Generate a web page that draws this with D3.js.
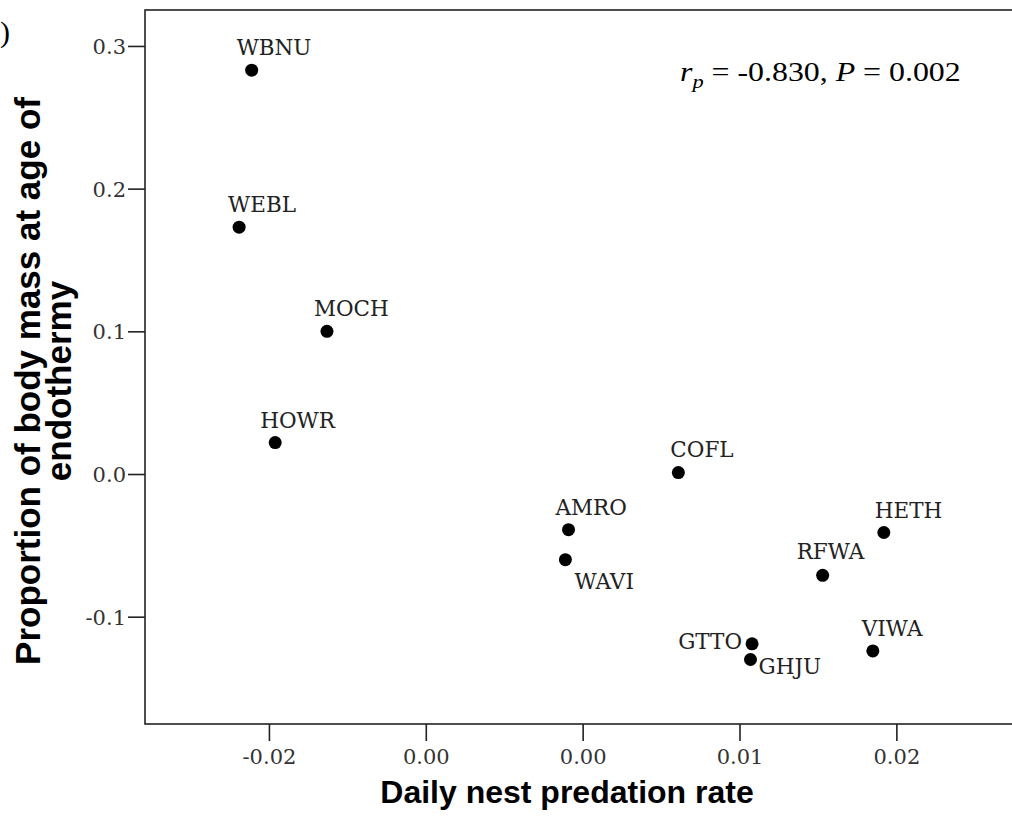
<!DOCTYPE html>
<html>
<head>
<meta charset="utf-8">
<script src="https://cdn.jsdelivr.net/npm/d3@7"></script>
<style>
  body { margin: 0; background: #fff; }
  svg { display: block; }
</style>
</head>
<body>
<div id="svg-area"></div>
<script>
// data
var species = ["WBNU", "WEBL", "MOCH", "HOWR", "COFL", "AMRO", "WAVI", "GTTO", "GHJU", "RFWA", "HETH", "VIWA"];
var predationRate = [-0.0211, -0.0219, -0.0163, -0.0196, 0.0061, -0.0009, -0.0011, 0.0108, 0.0107, 0.0153, 0.0192, 0.0185];
var bodyMassProp = [0.283, 0.173, 0.100, 0.022, 0.001, -0.039, -0.060, -0.119, -0.130, -0.071, -0.041, -0.124];

// tick values and their printed labels
var xTickValues = [-0.02, -0.01, 0.00, 0.01, 0.02];
var xTickLabels = ["-0.02", "0.00", "0.00", "0.01", "0.02"];
var yTickValues = [-0.1, 0.0, 0.1, 0.2, 0.3];
var yTickLabels = ["-0.1", "0.0", "0.1", "0.2", "0.3"];

// label placement next to each dot [dx, dy, anchor]
var labelPlace = {
    WBNU: [-15, -15, "start"],
    WEBL: [-11, -15, "start"],
    MOCH: [-13, -15, "start"],
    HOWR: [-15, -15, "start"],
    COFL: [-8, -16, "start"],
    AMRO: [-13, -15, "start"],
    WAVI: [9, 29, "start"],
    GTTO: [-10, 5, "end"],
    GHJU: [8, 14, "start"],
    RFWA: [-26, -16, "start"],
    HETH: [-9, -15, "start"],
    VIWA: [-11, -15, "start"]
};

// svg container
var svgWidth = 1012;
var svgHeight = 830;

// plot frame (right edge runs off the canvas)
var frame = { left: 145, top: 10, right: 1025, bottom: 724 };

var svg = d3.select("#svg-area")
            .append("svg")
            .attr("width", svgWidth)
            .attr("height", svgHeight);

// scales
var xScale = d3.scaleLinear()
               .domain([-0.0279, 0.0282])
               .range([frame.left, frame.right]);

var yScale = d3.scaleLinear()
               .domain([-0.1752, 0.3252])
               .range([frame.bottom, frame.top]);

var serif = "'DejaVu Serif', serif";

// frame
svg.append("rect")
   .attr("x", frame.left)
   .attr("y", frame.top)
   .attr("width", frame.right - frame.left)
   .attr("height", frame.bottom - frame.top)
   .attr("fill", "none")
   .attr("stroke", "#222")
   .attr("stroke-width", 1.6);

// axes
var xAxis = d3.axisBottom(xScale)
              .tickValues(xTickValues)
              .tickSize(17)
              .tickPadding(8)
              .tickFormat((d, i) => xTickLabels[i]);

var yAxis = d3.axisLeft(yScale)
              .tickValues(yTickValues)
              .tickSize(17)
              .tickPadding(2)
              .tickFormat((d, i) => yTickLabels[i]);

var gx = svg.append("g")
            .attr("transform", `translate(0, ${frame.bottom})`)
            .call(xAxis);

var gy = svg.append("g")
            .attr("transform", `translate(${frame.left}, 0)`)
            .call(yAxis);

[gx, gy].forEach(g => {
    g.select(".domain").remove();
    g.selectAll(".tick line").attr("stroke", "#222").attr("stroke-width", 1.6);
    g.selectAll(".tick text")
     .attr("fill", "#333")
     .style("font-family", serif)
     .style("font-size", "21px");
});
gy.selectAll(".tick text").attr("dy", "0.36em");

// points
svg.selectAll(".dot")
   .data(species)
   .enter()
   .append("circle")
   .classed("dot", true)
   .attr("cx", (d, i) => xScale(predationRate[i]))
   .attr("cy", (d, i) => yScale(bodyMassProp[i]))
   .attr("r", 6.5)
   .attr("fill", "#000");

// species labels
svg.selectAll(".spLabel")
   .data(species)
   .enter()
   .append("text")
   .classed("spLabel", true)
   .attr("x", (d, i) => xScale(predationRate[i]) + labelPlace[d][0])
   .attr("y", (d, i) => yScale(bodyMassProp[i]) + labelPlace[d][1])
   .attr("text-anchor", d => labelPlace[d][2])
   .attr("fill", "#222")
   .style("font-family", serif)
   .style("font-size", "21.5px")
   .text(d => d);

// correlation note (source text is a little wide, so stretch it)
var note = svg.append("text")
              .attr("transform", "translate(680, 81) scale(1.18, 1)")
              .style("font-family", "'Liberation Serif', 'Times New Roman', serif")
              .style("font-size", "27px")
              .attr("fill", "#000");
note.append("tspan").style("font-style", "italic").text("r");
note.append("tspan").style("font-style", "italic").style("font-size", "19px").attr("dy", 7).text("p");
note.append("tspan").attr("dy", -7).text(" = -0.830, ");
note.append("tspan").style("font-style", "italic").text("P");
note.append("tspan").text(" = 0.002");

// axis titles
var sans = "'Liberation Sans', Arial, sans-serif";

svg.append("text")
   .attr("x", 567)
   .attr("y", 803)
   .attr("text-anchor", "middle")
   .style("font-family", sans)
   .style("font-weight", "bold")
   .style("font-size", "32px")
   .text("Daily nest predation rate");

var yTitle = svg.append("text")
                .attr("transform", "translate(0, 381) rotate(-90)")
                .attr("text-anchor", "middle")
                .style("font-family", sans)
                .style("font-weight", "bold")
                .style("font-size", "35px");
yTitle.append("tspan").attr("x", 0).attr("y", 40).text("Proportion of body mass at age of");
yTitle.append("tspan").attr("x", 0).attr("y", 71).text("endothermy");

// panel letter at the left edge
svg.append("text")
   .attr("x", 0)
   .attr("y", 42)
   .style("font-family", "'Liberation Serif', serif")
   .style("font-size", "30px")
   .text(")");
</script>
</body>
</html>
